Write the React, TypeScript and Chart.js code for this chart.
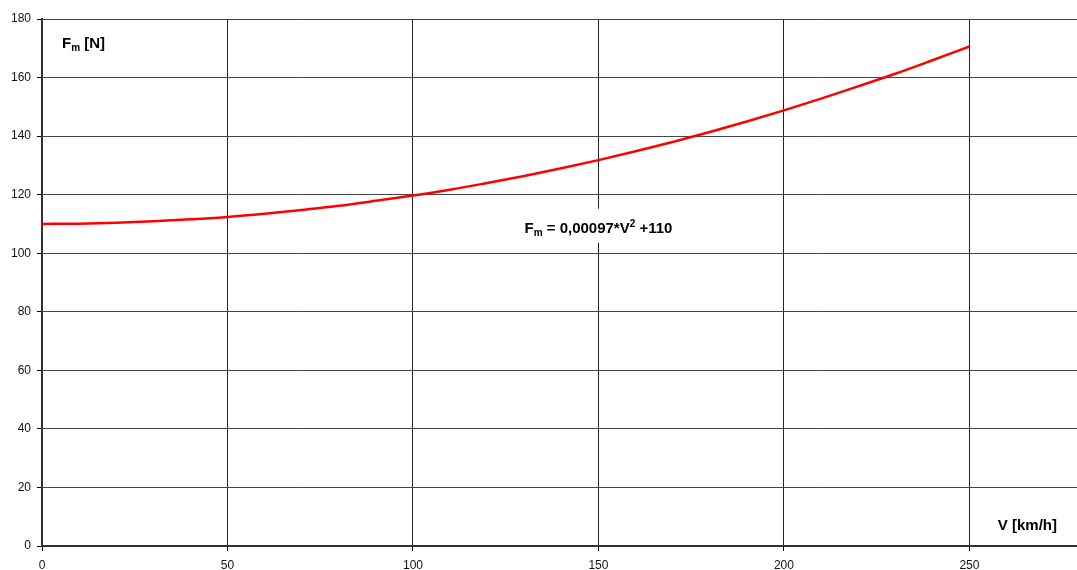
import React, { useEffect, useRef } from 'react';
import { Chart, registerables } from 'chart.js';

Chart.register(...registerables);

const speeds = [0, 10, 20, 30, 40, 50, 60, 70, 80, 90, 100, 110, 120, 130, 140, 150, 160, 170, 180, 190, 200, 210, 220, 230, 240, 250];
const forces = [110, 110.1, 110.4, 110.9, 111.6, 112.4, 113.5, 114.8, 116.2, 117.9, 119.7, 121.7, 124.0, 126.4, 129.0, 131.8, 134.8, 138.0, 141.4, 145.0, 148.8, 152.8, 157.0, 161.3, 165.9, 170.6];
const xTicks = [0, 50, 100, 150, 200, 250];
const yTicks = [0, 20, 40, 60, 80, 100, 120, 140, 160, 180];

const FONT = '"Liberation Sans", Arial, sans-serif';

function drawRich(ctx: CanvasRenderingContext2D, parts: { t: string; k?: 'sub' | 'sup' }[], x: number, y: number, measureOnly = false) {
  let cx = x;
  for (const p of parts) {
    if (p.k) {
      ctx.font = `bold 10px ${FONT}`;
    } else {
      ctx.font = `bold 15px ${FONT}`;
    }
    const dy = p.k === 'sub' ? 3 : p.k === 'sup' ? -6 : 0;
    if (!measureOnly) ctx.fillText(p.t, cx, y + dy);
    cx += ctx.measureText(p.t).width;
  }
  return cx - x;
}

const labelsPlugin = {
  id: 'labelsPlugin',
  afterDraw(chart: any) {
    const ctx = chart.ctx as CanvasRenderingContext2D;
    const xs = chart.scales.x;
    const ys = chart.scales.y;
    ctx.save();
    ctx.fillStyle = '#000';
    ctx.textBaseline = 'alphabetic';
    ctx.textAlign = 'left';
    // y-axis title
    drawRich(ctx, [{ t: 'F' }, { t: 'm', k: 'sub' }, { t: ' [N]' }], chart.chartArea.left + 20, chart.chartArea.top + 29);
    // x-axis title
    ctx.font = `bold 15px ${FONT}`;
    const xt = 'V [km/h]';
    const w = ctx.measureText(xt).width;
    ctx.fillText(xt, chart.chartArea.right - 20 - w, chart.chartArea.bottom - 16);
    // equation
    const eq = [{ t: 'F' }, { t: 'm', k: 'sub' as const }, { t: ' = 0,00097*V' }, { t: '2', k: 'sup' as const }, { t: ' +110' }];
    const ew = drawRich(ctx, eq as any, 0, 0, true);
    const cxp = xs.getPixelForValue(150);
    const by = ys.getPixelForValue(107);
    const ex = cxp - ew / 2;
    ctx.fillStyle = '#fff';
    ctx.fillRect(ex - 6, by - 24, ew + 12, 34);
    ctx.fillStyle = '#000';
    drawRich(ctx, eq as any, ex, by);
    ctx.restore();
  },
};

export default function App() {
  const ref = useRef<HTMLCanvasElement>(null);
  useEffect(() => {
    if (!ref.current) return;
    const chart = new Chart(ref.current, {
      type: 'line',
      data: {
        datasets: [
          {
            data: speeds.map((s, i) => ({ x: s, y: forces[i] })),
            borderColor: '#ff0000',
            borderWidth: 2.5,
            pointRadius: 0,
            fill: false,
            cubicInterpolationMode: 'monotone',
          },
        ],
      },
      options: {
        animation: false,
        responsive: false,
        devicePixelRatio: 1,
        layout: { padding: { left: 0, top: 19, right: 0, bottom: 0 } },
        plugins: { legend: { display: false }, tooltip: { enabled: false } },
        scales: {
          x: {
            type: 'linear',
            min: 0,
            max: 279,
            afterBuildTicks: (scale: any) => {
              scale.ticks = xTicks.map((v) => ({ value: v }));
            },
            afterFit: (scale: any) => {
              scale.height = 24;
            },
            grid: { color: '#222', lineWidth: 1, drawTicks: true, tickLength: 5, tickColor: '#000' },
            border: { color: '#333', width: 2 },
            ticks: { color: '#111', font: { family: FONT, size: 12 }, padding: 7, maxRotation: 0, autoSkip: false },
          },
          y: {
            type: 'linear',
            min: 0,
            max: 180,
            afterBuildTicks: (scale: any) => {
              scale.ticks = yTicks.map((v) => ({ value: v }));
            },
            afterFit: (scale: any) => {
              scale.width = 42;
            },
            grid: { color: '#444', lineWidth: 1, drawTicks: true, tickLength: 5, tickColor: '#000' },
            border: { color: '#333', width: 2 },
            ticks: { color: '#111', font: { family: FONT, size: 12 }, padding: 6, autoSkip: false },
          },
        },
      },
      plugins: [labelsPlugin],
    } as any);
    return () => chart.destroy();
  }, []);
  return (
    <div style={{ position: 'absolute', left: 0, top: 0, width: 1077, height: 570, background: '#fff' }}>
      <canvas ref={ref} width={1077} height={570} style={{ display: 'block' }} />
    </div>
  );
}
